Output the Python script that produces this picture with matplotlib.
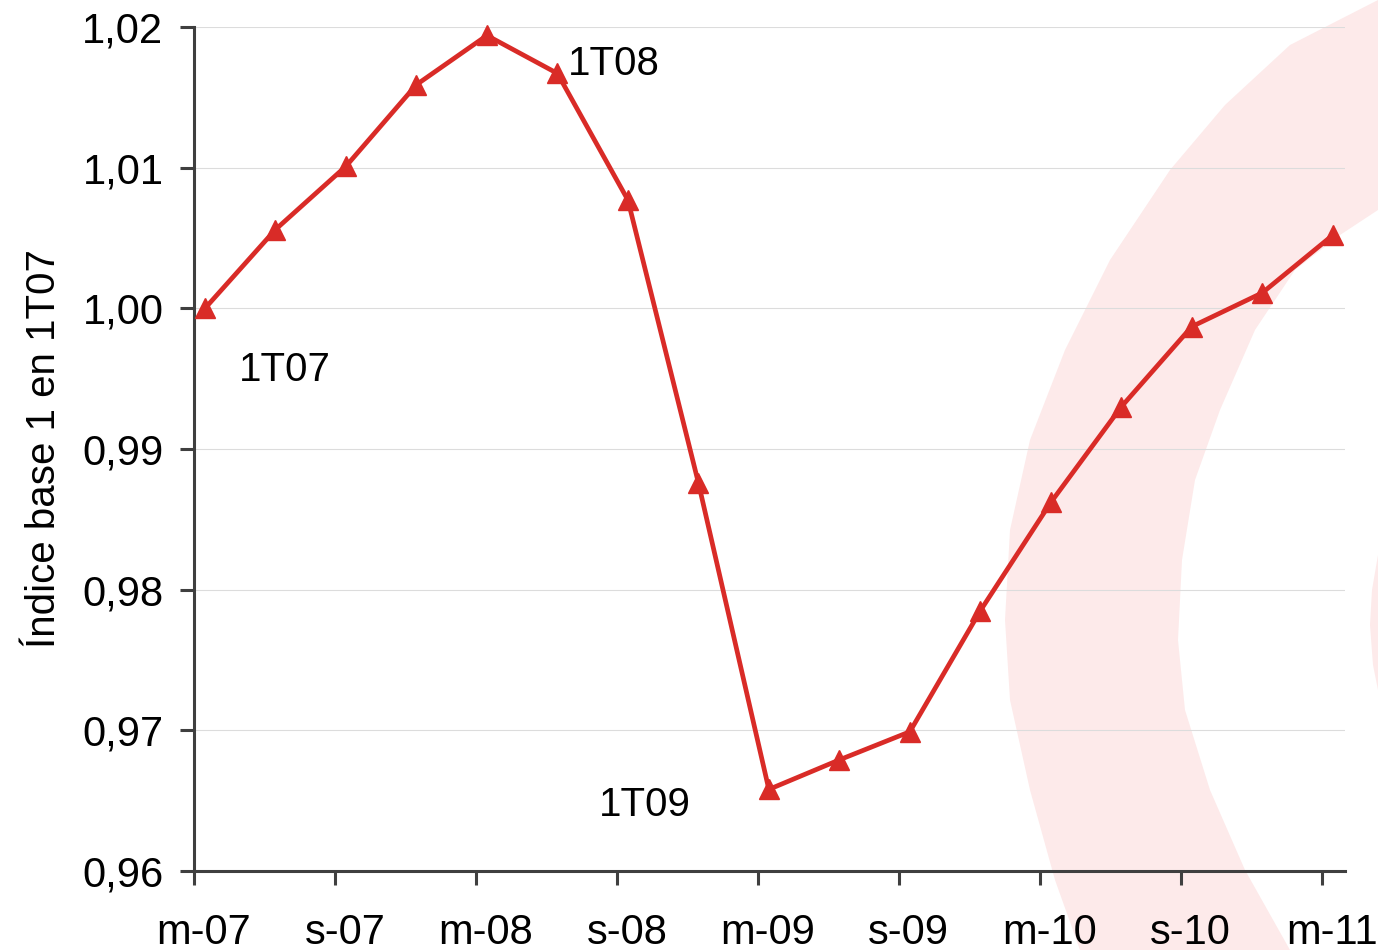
import numpy as np
import matplotlib.pyplot as plt
import matplotlib.transforms as mtransforms
from matplotlib.patches import Polygon

plt.rcParams['font.family'] = ['Liberation Sans', 'DejaVu Sans']

# Quarterly index, base 1 in 1T07
trimestres = ['1T07', '2T07', '3T07', '4T07', '1T08', '2T08', '3T08', '4T08',
              '1T09', '2T09', '3T09', '4T09', '1T10', '2T10', '3T10', '4T10', '1T11']
indice = [1.0000, 1.0056, 1.0101, 1.0159, 1.0194, 1.0167, 1.0077, 0.9876,
          0.9658, 0.9679, 0.9699, 0.9785, 0.9862, 0.9930, 0.9987, 1.0011, 1.0052]
meses = ['m-07', 's-07', 'm-08', 's-08', 'm-09', 's-09', 'm-10', 's-10', 'm-11']
etiquetas = {'1T07': (1.29, 0.9956), '1T08': (5.96, 1.0174), '1T09': (6.40, 0.9647)}

rojo = '#d92b27'
gris = '#3f3f3f'

fig = plt.figure(figsize=(13.78, 9.5), dpi=100)

# pale swoosh in the background (pixel outline -> figure fraction)
W, H = 1378.0, 950.0
borde_ext = [(1378, 0), (1290, 45), (1225, 105), (1170, 170), (1110, 260), (1065, 350),
             (1030, 440), (1010, 530), (1005, 620), (1010, 700), (1030, 790),
             (1055, 880), (1080, 950)]
borde_int = [(1290, 950), (1245, 870), (1210, 790), (1185, 710), (1178, 640),
             (1182, 560), (1195, 480), (1220, 410), (1255, 330), (1295, 270),
             (1340, 235), (1378, 210)]
pts = [(x / W, 1 - y / H) for x, y in borde_ext + borde_int]
fig.patches.append(Polygon(pts, closed=True, transform=fig.transFigure,
                           facecolor='#fdeaea', edgecolor='none', zorder=0))
trozo = [(1378, 555), (1372, 590), (1370, 625), (1373, 665), (1378, 690)]
fig.patches.append(Polygon([(x / W, 1 - y / H) for x, y in trozo], closed=True,
                           transform=fig.transFigure, facecolor='#fdeaea',
                           edgecolor='none', zorder=0))

ax = fig.add_axes([194 / W, 79 / H, (1345 - 194) / W, (871 - 27) / H])
ax.set_zorder(2)
ax.patch.set_alpha(0)

x = np.arange(len(indice)) + 0.156
ax.plot(x, indice, color=rojo, lw=3.4, marker='^', markersize=15,
        markeredgecolor=rojo, markerfacecolor=rojo, clip_on=False, zorder=3)

for txt, (tx, ty) in etiquetas.items():
    ax.text(tx, ty, txt, fontsize=29, ha='center', va='center', color='black')

ax.set_xlim(0, 16.33)
ax.set_ylim(0.96, 1.02)
ax.set_xticks(np.arange(0, 17, 2))
ax.set_xticklabels(meses)
ax.set_yticks(np.arange(0.96, 1.0201, 0.01))
ax.set_yticklabels(['0,96', '0,97', '0,98', '0,99', '1,00', '1,01', '1,02'])

ax.grid(axis='y', color='#dcdcdc', lw=0.8)
ax.set_axisbelow(True)
for s in ['top', 'right']:
    ax.spines[s].set_visible(False)
for s in ['left', 'bottom']:
    ax.spines[s].set_color(gris)
    ax.spines[s].set_linewidth(2.2)
ax.tick_params(axis='both', direction='out', length=10, width=2.2, color=gris,
               labelsize=30, labelcolor='black')
ax.tick_params(axis='x', pad=20)
ax.tick_params(axis='y', pad=12)

# month labels sit a little to the right of their ticks
desplaza = mtransforms.ScaledTranslation(10 / 100, 0, fig.dpi_scale_trans)
for lab in ax.get_xticklabels():
    lab.set_transform(lab.get_transform() + desplaza)

ax.set_ylabel('Índice base 1 en 1T07', fontsize=29, labelpad=14)

fig.savefig('out.png', dpi=100)
